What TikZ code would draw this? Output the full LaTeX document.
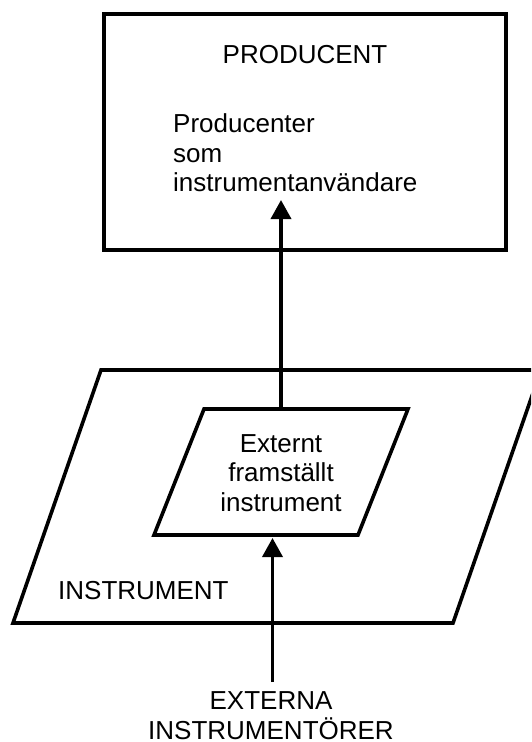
\documentclass[tikz,border=0pt]{standalone}
\usepackage{fontspec}
\setmainfont{Liberation Sans}
\usetikzlibrary{arrows.meta}
\begin{document}
\begin{tikzpicture}[x=1pt,y=-1pt,
  frame/.style={draw=black,line width=3.6pt,line join=miter},
  label/.style={inner sep=0pt,anchor=base,font=\fontsize{26}{29.3}\selectfont},
  link/.style={line width=3.6pt,-{Triangle[length=19pt,width=20pt]}}]
  \clip (0,0) rectangle (531,742);
  \fill[white] (0,0) rectangle (531,742);

  % producer box
  \draw[frame] (104,14) rectangle (506,250);
  \node[label] (prod) at (305,63) {PRODUCENT};
  % multi-line labels are placed by the baseline of their last line
  \node[label,anchor=base west,align=left] (user) at (173,191.5)
    {Producenter\\som\\instrumentanvändare};

  % instrument plane and the externally made instrument
  \draw[frame] (101,370) -- (541,370) -- (453,623) -- (13,623) -- cycle;
  \node[label,anchor=base west] (instr) at (58,599) {INSTRUMENT};
  \draw[frame] (204,409) -- (408,409) -- (358,535) -- (154,535) -- cycle;
  \node[label,align=center] (ext) at (281,511) {Externt\\framställt\\instrument};

  % external instrument makers
  \node[label,align=center] (makers) at (271,739) {EXTERNA\\INSTRUMENTÖRER};

  % connector end points
  \coordinate (extTop) at (281,409);
  \coordinate (userIn) at (281,200);
  \coordinate (makersTop) at (272.5,682);
  \coordinate (extBot) at (272.5,538);

  \draw[link] (extTop) -- (userIn);
  \draw[link] (makersTop) -- (extBot);
\end{tikzpicture}
\end{document}
